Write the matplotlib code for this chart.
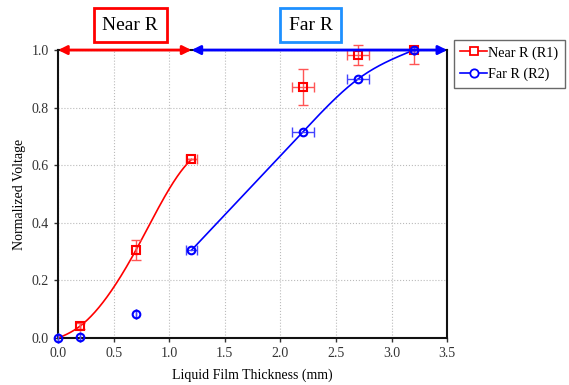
import numpy as np
import matplotlib
matplotlib.use("Agg")
import matplotlib.pyplot as plt

plt.rcParams['font.family'] = ['Liberation Serif', 'DejaVu Serif']

# data
x_r1 = [0.2, 0.7, 1.2, 2.2, 2.7, 3.2]
y_r1 = [0.042, 0.305, 0.62, 0.872, 0.984, 1.0]
xerr_r1 = [0.0, 0.0, 0.05, 0.1, 0.1, 0.0]
yerr_r1_low = [0.01, 0.035, 0.0, 0.063, 0.035, 0.05]
yerr_r1_high = [0.01, 0.035, 0.0, 0.063, 0.035, 0.0]

x_r2 = [0.0, 0.2, 0.7, 1.2, 2.2, 2.7, 3.2]
y_r2 = [0.0, 0.005, 0.085, 0.305, 0.715, 0.9, 1.0]
xerr_r2 = [0.0, 0.0, 0.0, 0.05, 0.1, 0.1, 0.0]

# points the fitted curves pass through
fit_x_r1 = [0.0, 0.2, 0.7, 1.2]
fit_y_r1 = [0.0, 0.042, 0.305, 0.62]
fit_x_r2 = [1.2, 2.2, 2.7, 3.2]
fit_y_r2 = [0.305, 0.715, 0.9, 1.0]

red = '#ff0000'
blue = '#0000ff'


def cubic_spline(xs, ys, d0=None, d1=None, n=200):
    # d0/d1 = end slopes, None gives a natural end
    xs = np.asarray(xs, float)
    ys = np.asarray(ys, float)
    k = len(xs)
    h = np.diff(xs)
    A = np.zeros((k, k))
    b = np.zeros(k)
    if d0 is None:
        A[0, 0] = 1
    else:
        A[0, 0], A[0, 1] = 2 * h[0], h[0]
        b[0] = 6 * ((ys[1] - ys[0]) / h[0] - d0)
    if d1 is None:
        A[-1, -1] = 1
    else:
        A[-1, -2], A[-1, -1] = h[-1], 2 * h[-1]
        b[-1] = 6 * (d1 - (ys[-1] - ys[-2]) / h[-1])
    for i in range(1, k - 1):
        A[i, i - 1] = h[i - 1]
        A[i, i] = 2 * (h[i - 1] + h[i])
        A[i, i + 1] = h[i]
        b[i] = 6 * ((ys[i + 1] - ys[i]) / h[i] - (ys[i] - ys[i - 1]) / h[i - 1])
    M = np.linalg.solve(A, b)
    xx = np.linspace(xs[0], xs[-1], n)
    yy = np.empty_like(xx)
    for j, t in enumerate(xx):
        i = min(np.searchsorted(xs, t, side='right') - 1, k - 2)
        a, c = xs[i], xs[i + 1]
        hi = c - a
        yy[j] = (M[i] * (c - t) ** 3 / (6 * hi) + M[i + 1] * (t - a) ** 3 / (6 * hi)
                 + (ys[i] / hi - M[i] * hi / 6) * (c - t)
                 + (ys[i + 1] / hi - M[i + 1] * hi / 6) * (t - a))
    return xx, yy


fig = plt.figure(figsize=(5.69, 3.85), dpi=100)
ax = fig.add_axes([0.102, 0.122, 0.684, 0.748])

sx, sy = cubic_spline(fit_x_r1, fit_y_r1, d0=0.15, d1=0.35)
ax.plot(sx, sy, color=red, lw=1.2, zorder=3)
sx, sy = cubic_spline(fit_x_r2, fit_y_r2)
ax.plot(sx, sy, color=blue, lw=1.2, zorder=3)

ax.errorbar(x_r1, y_r1, xerr=xerr_r1, yerr=[yerr_r1_low, yerr_r1_high], fmt='none',
            ecolor='#ff5555', elinewidth=1.0, capsize=3.5, capthick=1.0, zorder=3,
            clip_on=False)
ax.plot(x_r1, y_r1, 's', mfc='none', mec=red, ms=5.5, mew=1.5, zorder=4, clip_on=False)
ax.errorbar(x_r2, y_r2, xerr=xerr_r2, fmt='none',
            ecolor='#4444ff', elinewidth=1.0, capsize=3.5, capthick=1.0, zorder=3,
            clip_on=False)
ax.plot(x_r2, y_r2, 'o', mfc='none', mec=blue, ms=5.5, mew=1.5, zorder=4, clip_on=False)

# legend proxies
h1, = ax.plot([], [], color=red, marker='s', mfc='white', mec=red, ms=6, mew=1.3, lw=1.2)
h2, = ax.plot([], [], color=blue, marker='o', mfc='white', mec=blue, ms=6, mew=1.3, lw=1.2)
leg = fig.legend([h1, h2], ['Near R (R1)', 'Far R (R2)'], loc='upper left',
                 bbox_to_anchor=(0.798, 0.897), fontsize=10.2, frameon=True,
                 fancybox=False, edgecolor='#444444', handlelength=1.85,
                 handletextpad=0.1, borderpad=0.45, labelspacing=0.6, borderaxespad=0)
leg.get_frame().set_linewidth(1.0)

ax.set_xlim(0, 3.5)
ax.set_ylim(0, 1.0)
ax.set_xticks(np.arange(0, 3.51, 0.5))
ax.set_yticks(np.arange(0, 1.01, 0.2))
ax.xaxis.set_major_formatter(matplotlib.ticker.FormatStrFormatter('%.1f'))
ax.yaxis.set_major_formatter(matplotlib.ticker.FormatStrFormatter('%.1f'))
ax.tick_params(direction='out', length=3, width=1, labelsize=10, colors='#333333')
ax.grid(True, linestyle=':', color='#bbbbbb', linewidth=0.8)
for s in ax.spines.values():
    s.set_linewidth(1.5)
    s.set_color('#111111')

ax.set_xlabel('Liquid Film Thickness (mm)', fontsize=10, labelpad=6)
ax.set_ylabel('Normalized Voltage', fontsize=10, labelpad=4)

# range arrows at the top
ax.annotate('', xy=(0.0, 1.0), xytext=(1.2, 1.0),
            arrowprops=dict(arrowstyle='<|-|>', color=red, lw=2, mutation_scale=13,
                            shrinkA=0, shrinkB=0),
            annotation_clip=False, zorder=5)
ax.annotate('', xy=(1.2, 1.0), xytext=(3.5, 1.0),
            arrowprops=dict(arrowstyle='<|-|>', color=blue, lw=2, mutation_scale=13,
                            shrinkA=0, shrinkB=0),
            annotation_clip=False, zorder=5)

fig.text(0.229, 0.935, 'Near R', fontsize=14, ha='center', va='center',
         bbox=dict(boxstyle='square,pad=0.45', fc='white', ec=red, lw=2))
fig.text(0.546, 0.935, 'Far R', fontsize=14, ha='center', va='center',
         bbox=dict(boxstyle='square,pad=0.45', fc='white', ec='#1e90ff', lw=2))

fig.savefig('out.png', dpi=100)
